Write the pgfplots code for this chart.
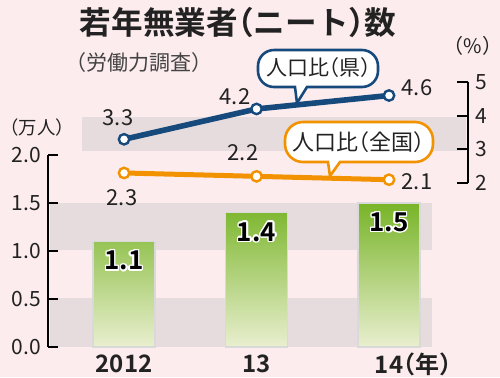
\documentclass[border=0pt]{standalone}
\usepackage{pgfplots}
\pgfplotsset{compat=1.18}
\usepackage{fontspec}
\setmainfont{Noto Sans CJK JP}[BoldFont={Noto Sans CJK JP Bold},RawFeature=+halt]
\usepackage[copies]{contour}
\contourlength{0.7pt}
\definecolor{bgpink}{HTML}{FCECEE}
\definecolor{band}{HTML}{E6DCDD}
\definecolor{blueL}{HTML}{174A7C}
\definecolor{orangeL}{HTML}{F39200}
\definecolor{barTop}{HTML}{78B428}
\definecolor{barBot}{HTML}{E9EFCF}
\definecolor{txt}{HTML}{222222}
\begin{document}
\begin{tikzpicture}[x=0.5pt,y=-0.5pt]
\fill[bgpink] (0,0) rectangle (500,377);
\path[use as bounding box] (0,0) rectangle (500,377);
% bands
\fill[band] (50,298) rectangle (432,347);
\fill[band] (50,203) rectangle (432,250);
\fill[band] (82,117) rectangle (466,151);
\coordinate (A) at (48,347);
% left axis with bars
\begin{axis}[at={(A)}, anchor=south west, scale only axis,
  width=210pt, height=132.5pt,
  xmin=-0.574, xmax=2.596, ymin=0, ymax=2.76,
  axis lines*=left, axis line style={draw=none},
  ybar, bar width=31pt,
  ytick={0,0.5,1,1.5,2}, ytick align=inside,
  major tick length=5pt, ytick style={black, line width=1pt},
  yticklabel style={font=\fontsize{10.5}{11}\selectfont, text=txt,
     /pgf/number format/.cd, fixed, fixed zerofill, precision=1, assume math mode=true},
  xtick={0,1,2}, xticklabels={2012,13,14\rlap{（年）}},
  xtick style={draw=none},
  xticklabel style={font=\bfseries\fontsize{12}{12}\selectfont, text=txt, anchor=center, yshift=-3.5pt},
  clip=false]
\addplot[draw=black!15, line width=0.8pt, top color=barTop, bottom color=barBot,
  nodes near coords={\contour{white}{\pgfmathprintnumber[fixed,fixed zerofill,precision=1,assume math mode=true]{\pgfplotspointmeta}}},
  every node near coord/.append style={anchor=center, yshift=-10pt, font=\bfseries\fontsize{13}{13}\selectfont, text=black}]
  coordinates {(0,1.1) (1,1.4) (2,1.5)};
\draw[line width=1.2pt] (axis cs:-0.574,0) -- (axis cs:-0.574,2);
\end{axis}
% right axis with lines
\begin{axis}[at={(A)}, anchor=south west, scale only axis,
  width=210pt, height=132.5pt,
  xmin=-0.574, xmax=2.596, ymin=-2.866, ymax=5,
  axis x line=none, axis y line*=right, axis line style={draw=none},
  ytick={2,3,4,5}, ytick align=inside,
  major tick length=5.5pt, ytick style={black, line width=1pt},
  yticklabel style={font=\fontsize{10.5}{11}\selectfont, text=txt,
     /pgf/number format/assume math mode=true},
  clip=false]
\addplot[orangeL, line width=2.5pt, mark=*, mark size=2.6pt,
  mark options={fill=white, draw=orangeL, line width=1.2pt}]
  coordinates {(0,2.3) (1,2.2) (2,2.1)};
\addplot[blueL, line width=2.8pt, mark=*, mark size=2.6pt,
  mark options={fill=white, draw=blueL, line width=1.2pt}]
  coordinates {(0,3.3) (1,4.2) (2,4.6)};
\draw[line width=1.2pt] (axis cs:2.596,2) -- (axis cs:2.596,5);
\end{axis}
% value labels
\begin{scope}[every node/.style={font=\fontsize{11}{11}\selectfont, text=txt}]
\node at (118,118) {3.3};
\node at (235,97) {4.2};
\node at (417,88) {4.6};
\node at (122,198) {2.3};
\node at (243,153) {2.2};
\node at (417,182) {2.1};
\end{scope}
% callouts
\draw[blueL, line width=1.3pt, fill=white, rounded corners=8pt]
  (295,87) -- (258,87) -- (258,50) -- (378,50) -- (378,87) [sharp corners] -- (307,87) -- (297,103) -- cycle;
\node[text=txt, font=\fontsize{10.5}{11}\selectfont] at (319,68) {人口比（県）};
\draw[orangeL, line width=1.3pt, fill=white, rounded corners=9pt]
  (328,162) -- (285,162) -- (285,122) -- (433,122) -- (433,162) [sharp corners] -- (340,162) -- (330,176) -- cycle;
\node[text=txt, font=\fontsize{11}{11}\selectfont] at (359,142) {人口比（全国）};
% titles
\node[text=txt, font=\bfseries\fontsize{15.8}{16}\selectfont] at (238,22) {若年無業者（ニート）数};
\node[text=txt!85, font=\fontsize{10.5}{11}\selectfont] at (139,63) {（労働力調査）};
\node[text=txt, font=\fontsize{9.2}{10}\selectfont] at (37,127) {（万人）};
\node[text=txt, font=\fontsize{10}{10}\selectfont] at (473,46) {（\%）};
\end{tikzpicture}
\end{document}
